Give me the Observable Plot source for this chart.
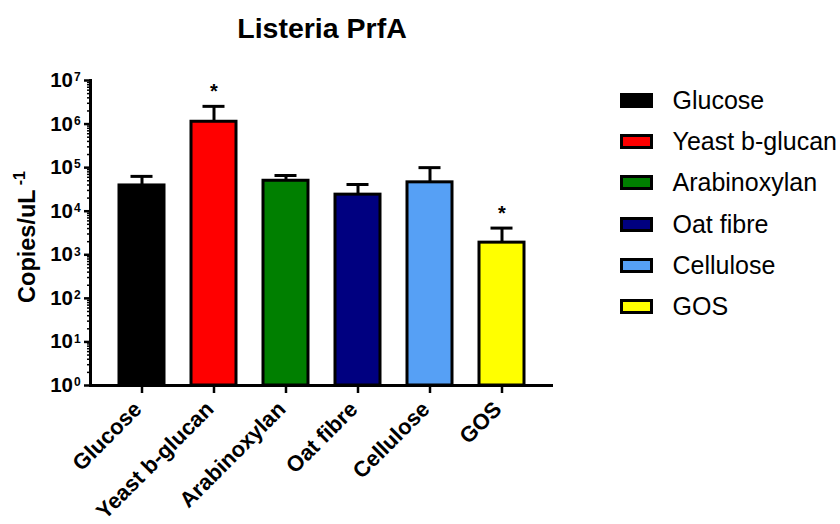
<!DOCTYPE html>
<html>
<head>
<meta charset="utf-8">
<script src="https://cdn.jsdelivr.net/npm/d3@7"></script>
<script src="https://cdn.jsdelivr.net/npm/@observablehq/plot@0.6"></script>
<style>
  html, body { margin: 0; padding: 0; background: #fff; }
  #wrap { position: relative; width: 840px; height: 524px; overflow: hidden; font-family: Arial, "Liberation Sans", sans-serif; color: #000; }
  #title { position: absolute; left: 0; top: 14px; width: 644px; text-align: center; font-size: 28.5px; font-weight: bold; line-height: 1; }
  #ylabel { position: absolute; left: 26px; top: 237px; transform: translate(-50%, -50%) rotate(-90deg); white-space: nowrap; font-size: 23.5px; font-weight: bold; line-height: 1; }
  #ylabel sup { font-size: 16px; position: relative; top: -1px; margin-left: 4px; }
  #legend { position: absolute; left: 620px; top: 80px; }
  .row { display: flex; align-items: center; height: 41.2px; }
  .sw { box-sizing: border-box; width: 33px; height: 15px; border: 3px solid #000; margin-right: 19.5px; }
  .lab { font-size: 25px; line-height: 1; }
  #chart { position: absolute; left: 0; top: 0; }
</style>
</head>
<body>
<div id="wrap">
  <div id="chart"></div>
  <div id="title">Listeria PrfA</div>
  <div id="ylabel">Copies/uL<sup>-1</sup></div>
  <div id="legend"></div>
</div>
<script>
// ---- data ----
const categories = ["Glucose", "Yeast b-glucan", "Arabinoxylan", "Oat fibre", "Cellulose", "GOS"];
const means      = [3.9e4, 1.13e6, 5.0e4, 2.4e4, 4.6e4, 1.9e3];
const upper      = [6.3e4, 2.55e6, 6.6e4, 4.1e4, 1.0e5, 4.1e3];
const significant = [false, true, false, false, false, true];
const colors     = ["#000000", "#ff0000", "#007f00", "#000080", "#56a0f5", "#ffff00"];
const exponents  = [0, 1, 2, 3, 4, 5, 6, 7];

const data = categories.map((c, i) => ({cat: c, mean: means[i], upper: upper[i], sig: significant[i], color: colors[i]}));
const majorTicks = exponents.map(e => Math.pow(10, e));
const minorTicks = [];
exponents.slice(0, -1).forEach(e => { for (let k = 2; k <= 9; k++) minorTicks.push(k * Math.pow(10, e)); });

const bold = "bold";
const chart = Plot.plot({
  width: 590,
  height: 524,
  marginLeft: 90,
  marginRight: 37,
  marginTop: 80,
  marginBottom: 139,
  style: {fontFamily: "Arial, 'Liberation Sans', sans-serif", background: "transparent", overflow: "visible", color: "#000"},
  x: {type: "band", domain: categories, paddingInner: 0.378, paddingOuter: 0.39, axis: null},
  y: {type: "log", domain: [1, 1e7], axis: null},
  marks: [
    Plot.barY(data, {x: "cat", y1: 1, y2: "mean", fill: d => d.color, stroke: "#000", strokeWidth: 3}),
    Plot.ruleX(data, {x: "cat", y1: "mean", y2: "upper", stroke: "#000", strokeWidth: 3}),
    Plot.tickY(data, {x: "cat", y: "upper", stroke: "#000", strokeWidth: 3, insetLeft: 11.5, insetRight: 11.5}),
    Plot.text(data.filter(d => d.sig), {x: "cat", y: "upper", text: () => "*", dy: -14.5, fontSize: 20, fontWeight: bold, fill: "#000"}),
    // axes
    Plot.axisY({ticks: minorTicks, tickSize: 3, tickFormat: () => "", label: null, strokeWidth: 1.5, stroke: "#000"}),
    Plot.axisY({ticks: majorTicks, tickSize: 6, tickFormat: () => "", label: null, strokeWidth: 2.5, stroke: "#000"}),
    Plot.text(majorTicks, {y: d => d, text: () => "10", frameAnchor: "left", textAnchor: "end", dx: -17.5, fontSize: 20.5, fontWeight: bold, fill: "#000"}),
    Plot.text(majorTicks, {y: d => d, text: (d, i) => String(exponents[i]), frameAnchor: "left", textAnchor: "start", dx: -16.5, dy: -3, fontSize: 12, fontWeight: bold, fill: "#000"}),
    Plot.axisX({tickSize: 8, tickFormat: () => "", label: null, strokeWidth: 2.5, stroke: "#000"}),
    Plot.text(categories, {x: d => d, text: d => d, frameAnchor: "bottom", rotate: -45, textAnchor: "end", dx: 1, dy: 25, fontSize: 22, fontWeight: bold, fill: "#000"}),
    Plot.frame({anchor: "left", stroke: "#000", strokeWidth: 3}),
    Plot.ruleY([1], {stroke: "#000", strokeWidth: 3})
  ]
});
document.getElementById("chart").appendChild(chart);

// legend from the same arrays
const legend = document.getElementById("legend");
categories.forEach((c, i) => {
  const row = document.createElement("div");
  row.className = "row";
  const sw = document.createElement("div");
  sw.className = "sw";
  sw.style.background = colors[i];
  const lab = document.createElement("div");
  lab.className = "lab";
  lab.textContent = c;
  row.appendChild(sw);
  row.appendChild(lab);
  legend.appendChild(row);
});
</script>
</body>
</html>
